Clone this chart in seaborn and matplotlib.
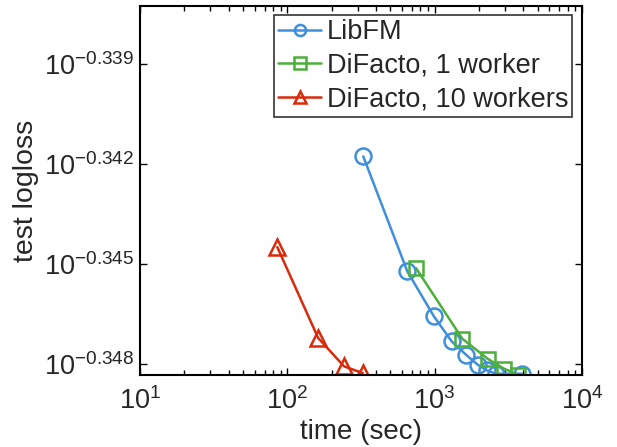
import numpy as np
import pandas as pd
import matplotlib
matplotlib.use("Agg")
import matplotlib.pyplot as plt
import seaborn as sns
from matplotlib.ticker import FixedLocator, FixedFormatter, NullLocator, NullFormatter

# values (time in sec, exponent of test logloss)
libfm_time = [328, 653, 990, 1306, 1634, 1963, 2261, 2612, 3900]
libfm_exp = [-0.34177, -0.34522, -0.34657, -0.34732, -0.34772, -0.34802, -0.34819, -0.34829, -0.34829]

difacto1_time = [748, 1542, 2292, 2958, 3700]
difacto1_exp = [-0.34512, -0.34724, -0.34784, -0.34814, -0.34832]

difacto10_time = [85.5, 162, 243, 325]
difacto10_exp = [-0.34449, -0.34722, -0.34807, -0.34827]

series_names = ["LibFM", "DiFacto, 1 worker", "DiFacto, 10 workers"]
ytick_exps = [-0.348, -0.345, -0.342, -0.339]
xtick_exps = [1, 2, 3, 4]

sns.set_style("ticks")
plt.rcParams["font.family"] = ["Liberation Sans", "DejaVu Sans"]
plt.rcParams["mathtext.fontset"] = "custom"
plt.rcParams["mathtext.rm"] = "Liberation Sans"
plt.rcParams["mathtext.it"] = "Liberation Sans"
plt.rcParams["mathtext.default"] = "rm"
plt.rcParams["xtick.minor.visible"] = True

df = pd.concat([
    pd.DataFrame({"time": libfm_time, "loss": 10 ** np.array(libfm_exp), "method": series_names[0]}),
    pd.DataFrame({"time": difacto1_time, "loss": 10 ** np.array(difacto1_exp), "method": series_names[1]}),
    pd.DataFrame({"time": difacto10_time, "loss": 10 ** np.array(difacto10_exp), "method": series_names[2]}),
])

colors = ["#3f8fdd", "#4caf3c", "#d92a0c"]
markers = ["o", "s", "^"]

fig = plt.figure(figsize=(6.17, 4.47), dpi=100)
ax = fig.add_axes([0.227, 0.161, 0.716, 0.826])

for name, col, mk in zip(series_names, colors, markers):
    sub = df[df["method"] == name]
    sns.lineplot(data=sub, x="time", y="loss", ax=ax, color=col, marker=mk,
                 markersize=11.5 if mk != "s" else 10, markerfacecolor="none",
                 markeredgecolor=col, markeredgewidth=1.8, linewidth=1.8,
                 label=name, sort=False, estimator=None)

ax.set_xscale("log")
ax.set_yscale("log")
ax.set_xlim(10, 1e4)
ax.set_ylim(10 ** -0.34833, 10 ** -0.33725)

ax.yaxis.set_major_locator(FixedLocator([10 ** e for e in ytick_exps]))
ax.yaxis.set_major_formatter(FixedFormatter([r"$10^{%.3f}$" % e for e in ytick_exps]))
ax.yaxis.set_minor_locator(NullLocator())
ax.xaxis.set_major_locator(FixedLocator([10.0 ** e for e in xtick_exps]))
ax.xaxis.set_major_formatter(FixedFormatter([r"$10^{%d}$" % e for e in xtick_exps]))
minor_x = [k * 10.0 ** d for d in xtick_exps[:-1] for k in range(2, 10)]
ax.xaxis.set_minor_locator(FixedLocator(minor_x))
ax.xaxis.set_minor_formatter(NullFormatter())

ax.tick_params(which="both", direction="in", top=True, right=True, labelsize=19.5,
               width=1, color="black")
ax.tick_params(which="major", length=5)
ax.tick_params(axis="x", which="minor", length=3.5, width=1, bottom=True, top=True)
ax.tick_params(axis="x", which="major", pad=9)
ax.tick_params(axis="y", which="major", pad=4)
for s in ax.spines.values():
    s.set_linewidth(1.5)
    s.set_color("black")

ax.set_xlabel("time (sec)", fontsize=20, labelpad=3)
ax.set_ylabel("test logloss", fontsize=20.5, labelpad=4)

leg = ax.legend(loc="upper right", fontsize=19.5, frameon=True, fancybox=False,
                edgecolor="black", borderpad=0.15, labelspacing=0.28,
                handlelength=1.6, handletextpad=0.2, borderaxespad=0.35)
leg.get_frame().set_linewidth(1.2)
for h in leg.legend_handles:
    h.set_markersize(8)

fig.savefig("out.png", dpi=100)
